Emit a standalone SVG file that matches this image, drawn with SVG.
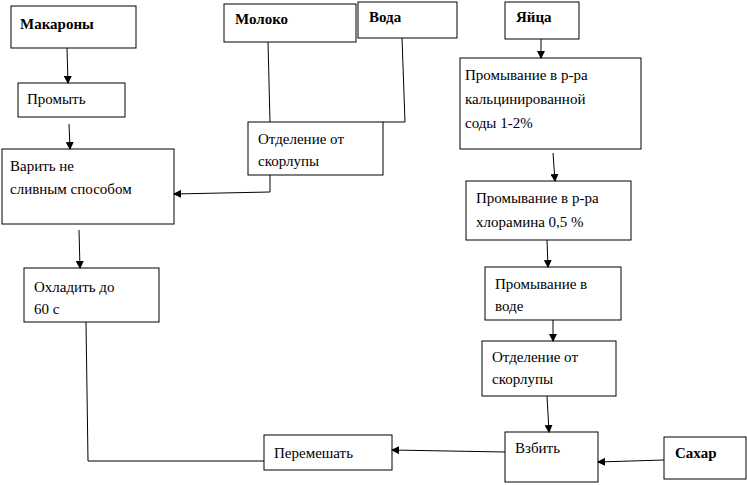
<svg xmlns="http://www.w3.org/2000/svg" width="747" height="486" viewBox="0 0 747 486">
<style>
rect{fill:#fff;stroke:#000;stroke-width:1}
text{font-family:"Liberation Serif",serif;font-size:15px;fill:#000}
.b{font-weight:bold}
.c{fill:none;stroke:#000;stroke-width:1}
</style>
<defs><marker id="a" markerWidth="8" markerHeight="8" refX="7" refY="4" orient="auto" markerUnits="userSpaceOnUse"><path d="M0,0L8,4L0,8z" fill="#000"/></marker></defs>
<rect width="747" height="486" style="stroke:none"/>
<g id="makarony"><rect x="11" y="6" width="125" height="42"/><text class="b" x="20" y="29">Макароны</text></g>
<g id="moloko"><rect x="224" y="4" width="132" height="38"/><text class="b" x="235" y="24">Молоко</text></g>
<g id="voda"><rect x="358" y="2" width="99" height="36"/><text class="b" x="369" y="22">Вода</text></g>
<g id="yaica"><rect x="505" y="2" width="74" height="37"/><text class="b" x="516" y="22">Яйца</text></g>
<g id="promyt"><rect x="18" y="83" width="107" height="34"/><text x="27" y="104">Промыть</text></g>
<g id="otdel1"><rect x="248" y="122" width="135" height="53"/><text x="258" y="144">Отделение от</text><text x="258" y="166">скорлупы</text></g>
<g id="prom1"><rect x="460" y="58" width="181" height="91"/><text x="465" y="80">Промывание в р-ра</text><text x="465" y="104">кальцинированной</text><text x="465" y="128">соды 1-2%</text></g>
<g id="varit"><rect x="2" y="149" width="172" height="75"/><text x="10" y="171">Варить не</text><text x="10" y="194">сливным способом</text></g>
<g id="prom2"><rect x="466" y="181" width="165" height="59"/><text x="476" y="203">Промывание в р-ра</text><text x="476" y="227">хлорамина 0,5 %</text></g>
<g id="ohlad"><rect x="24" y="268" width="135" height="54"/><text x="34" y="292">Охладить до</text><text x="34" y="314">60 с</text></g>
<g id="prom3"><rect x="485" y="267" width="136" height="53"/><text x="495" y="289">Промывание в</text><text x="495" y="311">воде</text></g>
<g id="otdel2"><rect x="482" y="341" width="134" height="55"/><text x="492" y="362">Отделение от</text><text x="492" y="384">скорлупы</text></g>
<g id="peremeshat"><rect x="264" y="435" width="128" height="35"/><text x="274" y="458">Перемешать</text></g>
<g id="vzbit"><rect x="505" y="432" width="93" height="50"/><text x="515" y="453">Взбить</text></g>
<g id="sahar"><rect x="664" y="437" width="82" height="42"/><text class="b" x="675" y="458">Сахар</text></g>
<g id="connectors">
<path class="c" d="M67,48L68,83" marker-end="url(#a)"/>
<path class="c" d="M69,124L70,149" marker-end="url(#a)"/>
<path class="c" d="M268,42L270,122"/>
<path class="c" d="M402,38L405,122L383,122"/>
<path class="c" d="M270,175L270,192L174,194" marker-end="url(#a)"/>
<path class="c" d="M79,230L80,268" marker-end="url(#a)"/>
<path class="c" d="M86,322L88,461L264,461"/>
<path class="c" d="M541,39L541,58" marker-end="url(#a)"/>
<path class="c" d="M553,153L555,181" marker-end="url(#a)"/>
<path class="c" d="M547,240L548,267" marker-end="url(#a)"/>
<path class="c" d="M553,320L553,341" marker-end="url(#a)"/>
<path class="c" d="M547,396L549,432" marker-end="url(#a)"/>
<path class="c" d="M505,452L392,450" marker-end="url(#a)"/>
<path class="c" d="M664,460L598,462" marker-end="url(#a)"/>
</g>
</svg>
